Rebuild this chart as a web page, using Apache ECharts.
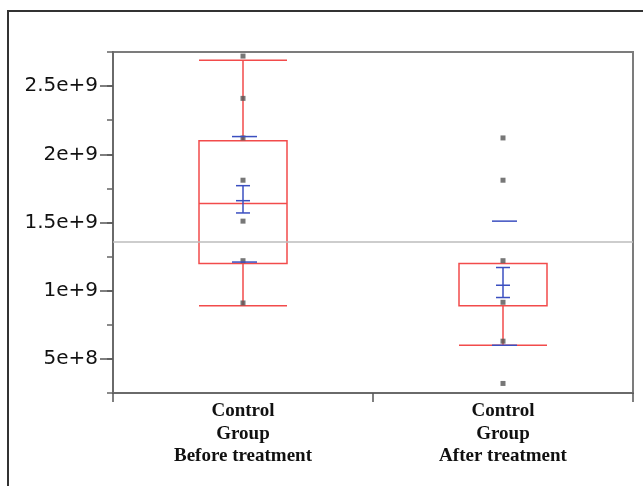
<!DOCTYPE html>
<html>
<head>
<meta charset="utf-8">
<script src="https://cdn.jsdelivr.net/npm/echarts@6/dist/echarts.min.js"></script>
<style>html,body{margin:0;padding:0;background:#fff;}#c{width:643px;height:486px;}</style>
</head>
<body>
<div id="c"></div>
<script>
const categories = ['Control\nGroup\nBefore treatment', 'Control\nGroup\nAfter treatment'];
// [lower whisker, Q1, median, Q3, upper whisker]
const boxBefore = [8.9e8, 1.2e9, 1.64e9, 2.1e9, 2.69e9];
const boxAfter = [6.0e8, 8.9e8, 8.9e8, 1.2e9, 1.2e9];
const pointsBefore = [2.72e9, 2.41e9, 2.12e9, 1.81e9, 1.51e9, 1.22e9, 0.91e9];
const pointsAfter = [2.12e9, 1.81e9, 1.22e9, 0.915e9, 0.63e9, 0.32e9];
const means = [1.66e9, 1.04e9];
const meanLow = [1.57e9, 0.95e9];
const meanHigh = [1.77e9, 1.17e9];
const sdHigh = [2.13e9, 1.51e9];
const sdLow = [1.21e9, 0.6e9];
const grandMean = 1.36e9;
const yTickValues = [5e8, 1e9, 1.5e9, 2e9, 2.5e9];
const yTickLabels = ['5e+8', '1e+9', '1.5e+9', '2e+9', '2.5e+9'];

const RED = '#f24b4b', BLUE = '#3b4fc0';

const chart = echarts.init(document.getElementById('c'), null, {renderer: 'canvas'});

const scatterData = [];
pointsBefore.forEach(v => scatterData.push([0, v]));
pointsAfter.forEach(v => scatterData.push([1, v]));

const blueData = means.map((m, i) => [i, m, meanLow[i], meanHigh[i], sdHigh[i], sdLow[i]]);

function labelFor(v) {
  const i = yTickValues.findIndex(t => Math.abs(t - v) < 1);
  return i >= 0 ? yTickLabels[i] : '';
}

const option = {
  animation: false,
  grid: {left: 113, right: 10, top: 52, bottom: 93, show: true, borderColor: '#7c7c7c', borderWidth: 2, backgroundColor: 'transparent'},
  xAxis: {
    type: 'category',
    data: categories,
    axisLine: {lineStyle: {color: '#6a6a6a', width: 2}},
    axisTick: {show: true, length: 9, interval: 0, lineStyle: {color: '#555', width: 1.5}},
    axisLabel: {
      interval: 0, margin: 7,
      fontFamily: 'Liberation Serif', fontWeight: 'bold', fontSize: 19, lineHeight: 22.5, color: '#111'
    },
    splitLine: {show: false}
  },
  yAxis: [{
    type: 'value', min: 2.5e8, max: 2.75e9, interval: 2.5e8,
    axisLine: {show: true, lineStyle: {color: '#6a6a6a', width: 2}},
    axisTick: {show: true, length: 6, lineStyle: {color: '#666', width: 1.5}},
    axisLabel: {show: false},
    splitLine: {show: false}
  }, {
    type: 'value', position: 'left', min: 2.5e8, max: 2.75e9, interval: 2.5e8,
    axisLine: {show: false},
    axisTick: {show: true, length: 13, customValues: yTickValues, lineStyle: {color: '#555', width: 1.5}},
    axisLabel: {
      show: true, margin: 15, customValues: yTickValues,
      formatter: labelFor,
      fontFamily: 'DejaVu Sans', fontSize: 20, color: '#111'
    },
    splitLine: {show: false}
  }],
  series: [{
    type: 'boxplot',
    yAxisIndex: 0,
    boxWidth: [88, 88],
    data: [boxBefore, boxAfter],
    itemStyle: {color: 'rgba(0,0,0,0)', borderColor: RED, borderWidth: 1.5},
    emphasis: {disabled: true},
    silent: true,
    markLine: {
      silent: true, symbol: ['none', 'none'], label: {show: false},
      lineStyle: {color: '#bcbcbc', width: 1.5, type: 'solid'},
      data: [{yAxis: grandMean}]
    },
    z: 2
  }, {
    type: 'scatter',
    yAxisIndex: 0,
    data: scatterData,
    symbol: 'rect', symbolSize: 5,
    itemStyle: {color: '#555'},
    silent: true,
    z: 3
  }, {
    type: 'custom',
    yAxisIndex: 0,
    data: blueData,
    silent: true,
    z: 4,
    renderItem: function (params, api) {
      const x = api.coord([api.value(0), api.value(1)])[0];
      const yM = api.coord([api.value(0), api.value(1)])[1];
      const yL = api.coord([api.value(0), api.value(2)])[1];
      const yH = api.coord([api.value(0), api.value(3)])[1];
      const yS1 = api.coord([api.value(0), api.value(4)])[1];
      const yS2 = api.coord([api.value(0), api.value(5)])[1];
      const st = {stroke: BLUE, lineWidth: 1.5};
      const seg = (x1, y1, x2, y2) => ({type: 'line', shape: {x1, y1, x2, y2}, style: st});
      return {type: 'group', children: [
        seg(x, yL, x, yH),
        seg(x - 7, yL, x + 7, yL),
        seg(x - 7, yH, x + 7, yH),
        seg(x - 7, yM, x + 7, yM),
        seg(x - 11, yS1, x + 14, yS1),
        seg(x - 11, yS2, x + 14, yS2)
      ]};
    }
  }],
  graphic: [{
    type: 'polyline',
    shape: {points: [[8, 486], [8, 11], [643, 11]]},
    style: {stroke: '#333', lineWidth: 2, fill: null}
  }]
};
chart.setOption(option);
</script>
</body>
</html>
